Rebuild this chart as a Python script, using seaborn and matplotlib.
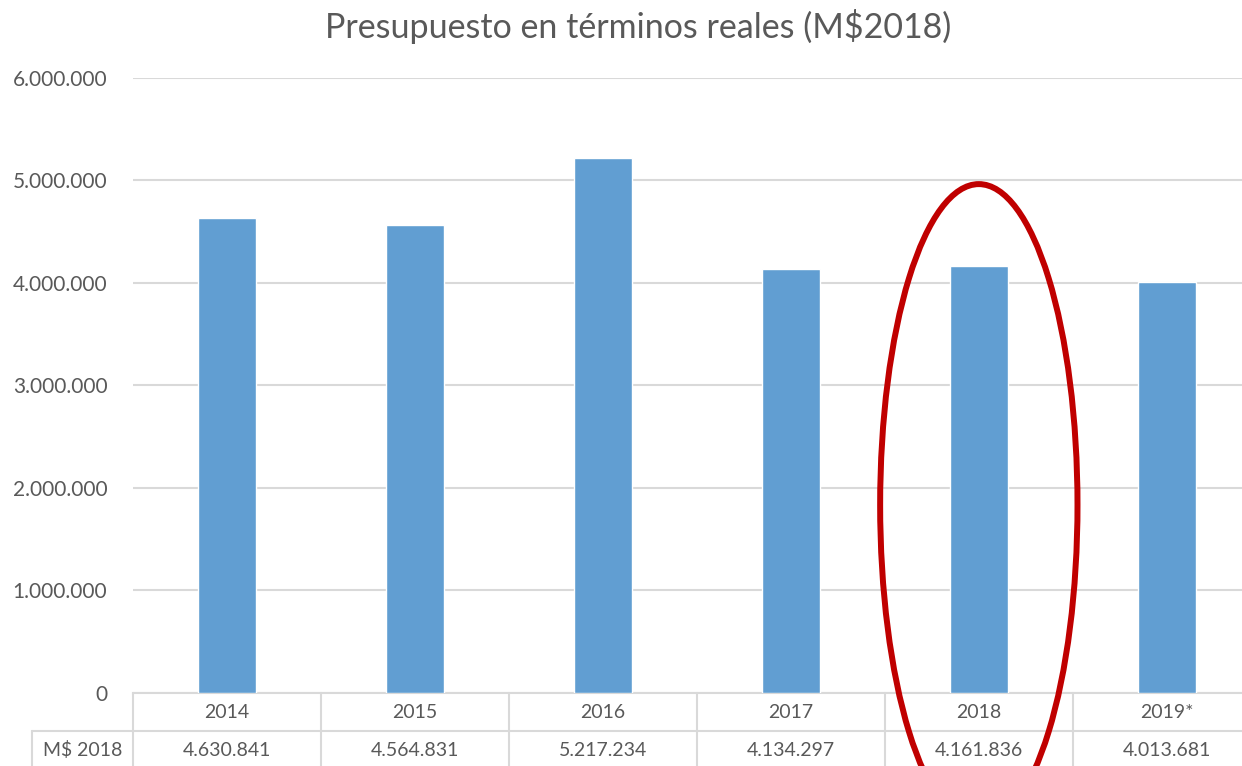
import numpy as np
import pandas as pd
import seaborn as sns
import matplotlib.pyplot as plt
import matplotlib.transforms as mtransforms
from matplotlib.patches import Ellipse
from matplotlib.ticker import FuncFormatter

# ---------------------------------------------------------------
# DATA
# ---------------------------------------------------------------
years = ["2014", "2015", "2016", "2017", "2018", "2019*"]
budget = [4630841, 4564831, 5217234, 4134297, 4161836, 4013681]
row_label = "M$ 2018"
title = "Presupuesto en términos reales (M$2018)"
highlight = "2018"

df = pd.DataFrame({"year": years, "budget": budget})

def fmt_dots(v):
    return f"{int(round(v)):,}".replace(",", ".")

# ---------------------------------------------------------------
# STYLE
# ---------------------------------------------------------------
sns.set_style("white")
plt.rcParams["font.family"] = ["Lato", "DejaVu Sans"]
text_grey = "#595959"
line_grey = "#D9D9D9"

fig = plt.figure(figsize=(12.42, 7.66), dpi=100)
ax = fig.add_axes([0.1071, 0.0953, 0.908, 0.803])

sns.barplot(data=df, x="year", y="budget", color="#619ED2", width=0.31,
            saturation=1, ax=ax, zorder=3)

ax.set_ylim(0, 6000000)
ax.set_xlim(-0.5, len(years) - 0.5)
ax.set_yticks(np.arange(0, 6000001, 1000000))
ax.yaxis.set_major_formatter(FuncFormatter(lambda v, p: fmt_dots(v)))
ax.tick_params(axis="y", labelsize=15, labelcolor=text_grey, length=0, pad=18.5)
ax.set_xticks([])
ax.set_xlabel("")
ax.set_ylabel("")
ax.grid(axis="y", color=line_grey, linewidth=1.5, zorder=0)
for s in ["top", "right", "left"]:
    ax.spines[s].set_visible(False)
ax.spines["bottom"].set_color(line_grey)
ax.spines["bottom"].set_linewidth(1.5)

fig.text(0.5136, 0.966, title, ha="center", va="center", fontsize=24.5,
         color=text_grey)

# ---------------------------------------------------------------
# DATA TABLE UNDER THE AXIS
# ---------------------------------------------------------------
trans = mtransforms.blended_transform_factory(ax.transData, ax.transAxes)
y_years = -0.0325
y_vals = -0.0927
y_split = -0.062
y_bottom = -0.2
x_head = -1.037

for i, (yr, val) in enumerate(zip(years, budget)):
    ax.text(i, y_years, yr, transform=trans, ha="center", va="center",
            fontsize=14, color=text_grey, clip_on=False)
    ax.text(i, y_vals, fmt_dots(val), transform=trans, ha="center",
            va="center", fontsize=14, color=text_grey, clip_on=False)

ax.text((x_head - 0.5) / 2, y_vals, row_label, transform=trans, ha="center",
        va="center", fontsize=14, color=text_grey, clip_on=False)

for k in range(len(years) + 1):
    ax.plot([k - 0.5, k - 0.5], [0, y_bottom], transform=trans,
            color=line_grey, linewidth=1.5, clip_on=False)
ax.plot([x_head, len(years) - 0.5], [y_split, y_split], transform=trans,
        color=line_grey, linewidth=1.5, clip_on=False)
ax.plot([x_head, x_head], [y_split, y_bottom], transform=trans,
        color=line_grey, linewidth=1.5, clip_on=False)

# ---------------------------------------------------------------
# RED ELLIPSE AROUND THE HIGHLIGHTED YEAR
# ---------------------------------------------------------------
hx = years.index(highlight)
ell = Ellipse((hx, 1834000), width=1.05, height=6260000, fill=False,
              edgecolor="#C00000", linewidth=4.3, clip_on=False, zorder=5)
ax.add_patch(ell)

plt.savefig("out.png", dpi=100)
